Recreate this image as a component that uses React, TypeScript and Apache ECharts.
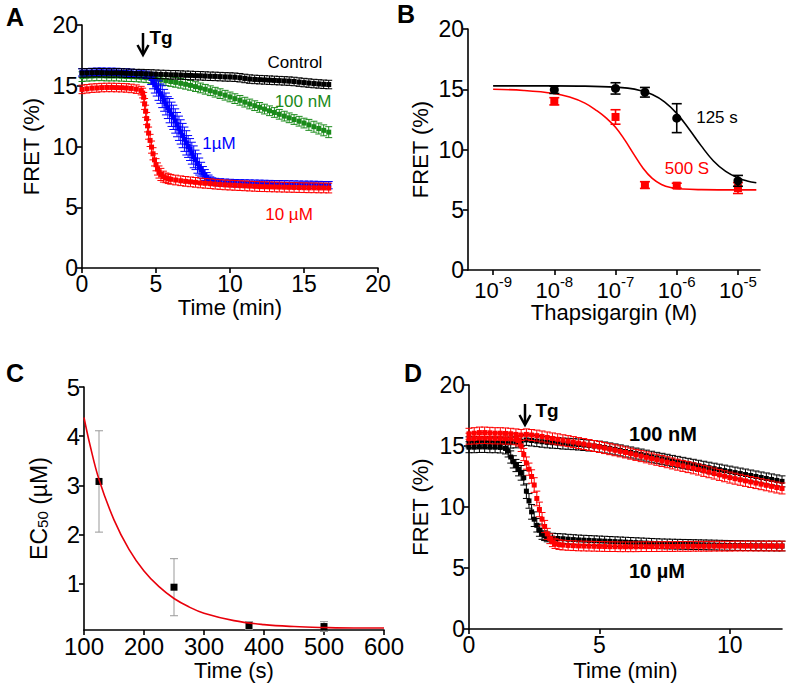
import React, { useEffect, useRef } from "react";
import * as echarts from "echarts";

const FONT = '"Liberation Sans", Arial, Helvetica, sans-serif';

// ---------- Panel A: FRET vs time, [time (min), FRET %, SEM] ----------
const aControl = [
  [0,16.05,.35],[0.33,16.06,.35],[0.67,16.07,.35],[1,16.08,.35],[1.33,16.07,.35],[1.67,16.06,.35],[2,16.05,.35],[2.33,16.06,.35],[2.67,16.05,.35],[3,16.03,.35],[3.33,16.02,.35],[3.67,16,.35],[4,16,.35],[4.33,15.98,.35],[4.67,15.97,.35],[5,15.95,.35],[5.33,15.93,.35],[5.67,15.92,.35],[6,15.9,.35],[6.33,15.9,.35],[6.67,15.88,.35],[7,15.86,.35],[7.33,15.85,.35],[7.67,15.83,.35],[8,15.82,.35],[8.33,15.8,.35],[8.67,15.78,.35],[9,15.77,.35],[9.33,15.75,.35],[9.67,15.73,.35],[10,15.72,.35],[10.33,15.7,.35],[10.67,15.66,.35],[11,15.6,.35],[11.33,15.55,.35],[11.67,15.52,.35],[12,15.5,.35],[12.33,15.48,.35],[12.67,15.46,.35],[13,15.44,.35],[13.33,15.42,.35],[13.67,15.4,.35],[14,15.38,.35],[14.33,15.35,.35],[14.67,15.3,.35],[15,15.26,.35],[15.33,15.22,.35],[15.67,15.18,.35],[16,15.15,.35],[16.33,15.12,.35],[16.67,15.1,.35]
];
const a100nM = [
  [0,15.75,.4],[0.33,15.78,.4],[0.67,15.8,.4],[1,15.82,.4],[1.33,15.82,.4],[1.67,15.8,.4],[2,15.8,.4],[2.33,15.8,.4],[2.67,15.78,.4],[3,15.76,.4],[3.33,15.75,.4],[3.67,15.73,.4],[4,15.7,.4],[4.33,15.66,.4],[4.67,15.6,.4],[5,15.55,.4],[5.33,15.48,.4],[5.67,15.42,.4],[6,15.35,.4],[6.33,15.28,.4],[6.67,15.2,.4],[7,15.12,.4],[7.33,15.03,.4],[7.67,14.93,.4],[8,14.82,.4],[8.33,14.71,.4],[8.67,14.59,.4],[9,14.47,.4],[9.33,14.35,.4],[9.67,14.22,.4],[10,14.08,.4],[10.33,13.94,.4],[10.67,13.8,.4],[11,13.65,.4],[11.33,13.5,.4],[11.67,13.36,.4],[12,13.22,.4],[12.33,13.08,.4],[12.67,12.94,.4],[13,12.8,.4],[13.33,12.65,.4],[13.67,12.5,.4],[14,12.36,.4],[14.33,12.22,.4],[14.67,12.08,.4],[15,11.93,.4],[15.33,11.78,.45],[15.67,11.63,.45],[16,11.48,.45],[16.33,11.33,.45],[16.67,11.18,.45]
];
const a1uM = [
  [0,16.1,.3],[0.33,16.12,.3],[0.67,16.14,.3],[1,16.15,.3],[1.33,16.16,.3],[1.67,16.15,.3],[2,16.15,.3],[2.33,16.14,.3],[2.67,16.12,.3],[3,16.1,.3],[3.33,16.06,.3],[3.67,16.02,.3],[4,15.98,.3],[4.33,15.9,.3],[4.67,15.6,.5],[4.8,15.35,.6],[4.92,15.1,.7],[5.05,14.85,.7],[5.17,14.6,.8],[5.3,14.35,.8],[5.42,14.1,.9],[5.55,13.8,.9],[5.67,13.5,.9],[5.8,13.2,.9],[5.92,12.95,1],[6.05,12.65,1],[6.17,12.4,1],[6.3,12.1,1],[6.42,11.8,1],[6.55,11.5,1],[6.67,11.2,1],[6.8,10.9,1],[6.92,10.6,1],[7.05,10.3,1],[7.17,10,.9],[7.3,9.75,.9],[7.42,9.45,.9],[7.55,9.15,.9],[7.67,8.9,.8],[7.8,8.6,.8],[7.92,8.35,.7],[8.05,8.1,.6],[8.17,7.85,.5],[8.3,7.65,.45],[8.42,7.45,.4],[8.55,7.3,.35],[8.67,7.2,.3],[8.8,7.12,.3],[9,7.08,.3],[9.33,7.05,.3],[9.67,7.02,.3],[10,7,.3],[10.33,6.98,.3],[10.67,6.97,.3],[11,6.96,.3],[11.33,6.95,.3],[11.67,6.94,.3],[12,6.93,.3],[12.33,6.92,.3],[12.67,6.91,.3],[13,6.9,.3],[13.33,6.9,.3],[13.67,6.89,.3],[14,6.88,.3],[14.33,6.87,.3],[14.67,6.86,.3],[15,6.85,.3],[15.33,6.85,.3],[15.67,6.84,.3],[16,6.83,.3],[16.33,6.82,.3],[16.67,6.82,.3]
];
const a10uM = [
  [0,14.7,.35],[0.33,14.75,.35],[0.67,14.8,.35],[1,14.82,.35],[1.33,14.85,.35],[1.67,14.86,.35],[2,14.86,.35],[2.33,14.85,.35],[2.67,14.84,.35],[3,14.82,.35],[3.33,14.78,.35],[3.67,14.72,.35],[4,14.6,.35],[4.1,14.4,.4],[4.17,14.05,.4],[4.23,13.5,.45],[4.3,12.9,.5],[4.37,12.3,.5],[4.43,11.7,.5],[4.5,11.1,.5],[4.6,10.5,.5],[4.7,9.95,.5],[4.8,9.4,.5],[4.9,8.9,.5],[5,8.5,.5],[5.1,8.15,.5],[5.2,7.9,.5],[5.33,7.7,.5],[5.5,7.52,.45],[5.67,7.42,.4],[5.83,7.35,.4],[6,7.3,.4],[6.33,7.24,.4],[6.67,7.18,.4],[7,7.13,.4],[7.33,7.09,.4],[7.67,7.05,.4],[8,7,.4],[8.33,6.97,.4],[8.67,6.94,.4],[9,6.9,.4],[9.33,6.87,.4],[9.67,6.84,.4],[10,6.82,.4],[10.33,6.8,.4],[10.67,6.78,.4],[11,6.76,.4],[11.33,6.74,.4],[11.67,6.72,.4],[12,6.7,.4],[12.33,6.69,.4],[12.67,6.68,.4],[13,6.67,.4],[13.33,6.66,.4],[13.67,6.65,.4],[14,6.64,.4],[14.33,6.63,.4],[14.67,6.62,.4],[15,6.61,.4],[15.33,6.6,.4],[15.67,6.6,.4],[16,6.59,.4],[16.33,6.59,.4],[16.67,6.58,.4]
];

// ---------- Panel B: dose response (log10 [Tg] M) ----------
const bLogDose = [-8, -7, -6.52, -6, -5];
const b125s = [14.95, 15.07, 14.75, 12.6, 7.4];
const b125sErr = [0.3, 0.47, 0.4, 1.2, 0.45];
const b500s = [14.0, 12.7, 7.05, 7.0, 6.8];
const b500sErr = [0.3, 0.6, 0.28, 0.2, 0.45];
const b125sFit = [[-9,15.28],[-8,15.28],[-7.5,15.26],[-7,15.18],[-6.8,15.09],[-6.6,14.9],[-6.4,14.56],[-6.2,13.96],[-6,13.0],[-5.8,11.7],[-5.6,10.3],[-5.4,9.05],[-5.2,8.18],[-5,7.64],[-4.85,7.39],[-4.7,7.24]];
const b500sFit = [[-9,15.0],[-8.5,14.9],[-8,14.65],[-7.75,14.35],[-7.5,13.85],[-7.3,13.2],[-7.15,12.6],[-7,11.85],[-6.85,10.8],[-6.7,9.6],[-6.55,8.45],[-6.4,7.6],[-6.25,7.1],[-6.1,6.85],[-5.9,6.72],[-5.6,6.67],[-5,6.65],[-4.7,6.65]];
const bTickLogs = [-9, -8, -7, -6, -5];

// ---------- Panel C: EC50 vs time ----------
const cTime = [125, 250, 375, 500];
const cEC50 = [3.08, 0.93, 0.15, 0.13];
const cErr = [1.03, 0.58, 0.08, 0.1];
const cFit = [[100,4.38],[110,3.82],[125,3.12],[150,2.3],[175,1.7],[200,1.26],[225,0.94],[250,0.7],[275,0.53],[300,0.4],[350,0.25],[400,0.17],[450,0.13],[500,0.11],[550,0.1],[600,0.1]];
const cYTicks = [1, 2, 3, 4, 5];

// ---------- Panel D: FRET vs time, two conditions ----------
const dBlack100 = [
  [0,15.3,.45],[0.2,15.3,.45],[0.4,15.32,.45],[0.6,15.3,.45],[0.8,15.3,.45],[1,15.28,.45],[1.2,15.28,.45],[1.4,15.27,.45],[1.6,15.28,.45],[1.8,15.3,.45],[2,15.4,.45],[2.2,15.5,.45],[2.4,15.45,.45],[2.6,15.4,.45],[2.8,15.35,.45],[3,15.3,.45],[3.2,15.27,.45],[3.4,15.24,.45],[3.6,15.2,.45],[3.8,15.18,.45],[4,15.15,.45],[4.2,15.12,.45],[4.4,15.08,.45],[4.6,15.04,.45],[4.8,15,.45],[5,14.95,.45],[5.2,14.88,.45],[5.4,14.8,.45],[5.6,14.72,.45],[5.8,14.64,.45],[6,14.55,.45],[6.2,14.47,.45],[6.4,14.38,.45],[6.6,14.3,.45],[6.8,14.21,.45],[7,14.12,.45],[7.2,14.03,.45],[7.4,13.95,.45],[7.6,13.87,.45],[7.8,13.78,.45],[8,13.7,.45],[8.2,13.62,.45],[8.4,13.54,.45],[8.6,13.46,.45],[8.8,13.38,.45],[9,13.3,.45],[9.2,13.22,.45],[9.4,13.14,.45],[9.6,13.06,.45],[9.8,12.98,.45],[10,12.9,.45],[10.2,12.82,.45],[10.4,12.74,.45],[10.6,12.66,.45],[10.8,12.58,.45],[11,12.5,.45],[11.2,12.42,.45],[11.4,12.34,.45],[11.6,12.26,.45],[11.8,12.18,.45],[12,12.1,.45]
];
const dRed100 = [
  [0,16,.45],[0.2,16.05,.45],[0.4,16.1,.45],[0.6,16.1,.45],[0.8,16.08,.45],[1,16.05,.45],[1.2,16.05,.45],[1.4,16.03,.45],[1.6,16,.45],[1.8,15.95,.45],[2,15.9,.45],[2.2,15.95,.45],[2.4,15.9,.45],[2.6,15.85,.45],[2.8,15.78,.45],[3,15.7,.45],[3.2,15.62,.45],[3.4,15.55,.45],[3.6,15.47,.45],[3.8,15.4,.45],[4,15.32,.45],[4.2,15.24,.45],[4.4,15.16,.45],[4.6,15.08,.45],[4.8,15,.45],[5,14.92,.45],[5.2,14.83,.45],[5.4,14.74,.45],[5.6,14.65,.45],[5.8,14.56,.45],[6,14.47,.45],[6.2,14.37,.45],[6.4,14.27,.45],[6.6,14.17,.45],[6.8,14.07,.45],[7,13.97,.45],[7.2,13.87,.45],[7.4,13.77,.45],[7.6,13.67,.45],[7.8,13.57,.45],[8,13.47,.45],[8.2,13.37,.45],[8.4,13.27,.45],[8.6,13.17,.45],[8.8,13.07,.45],[9,12.96,.45],[9.2,12.85,.45],[9.4,12.74,.45],[9.6,12.63,.45],[9.8,12.52,.45],[10,12.41,.45],[10.2,12.32,.45],[10.4,12.23,.45],[10.6,12.14,.45],[10.8,12.05,.45],[11,11.96,.45],[11.2,11.87,.45],[11.4,11.78,.45],[11.6,11.69,.45],[11.8,11.6,.45],[12,11.52,.45]
];
const dBlack10 = [
  [0,14.9,.45],[0.2,14.9,.45],[0.4,14.92,.45],[0.6,14.92,.45],[0.8,14.9,.45],[1,14.9,.45],[1.2,14.88,.45],[1.4,14.8,.45],[1.5,14.6,.5],[1.6,14.1,.5],[1.7,13.7,.5],[1.8,13.4,.5],[1.9,13.1,.55],[2,12.8,.6],[2.1,12.4,.6],[2.2,11.3,.6],[2.3,10.5,.6],[2.4,9.6,.6],[2.5,9,.6],[2.6,8.5,.55],[2.7,8.1,.5],[2.8,7.8,.45],[2.9,7.65,.4],[3,7.55,.4],[3.2,7.45,.4],[3.4,7.42,.4],[3.6,7.4,.4],[3.8,7.36,.4],[4,7.33,.4],[4.2,7.3,.4],[4.4,7.28,.4],[4.6,7.26,.4],[4.8,7.24,.4],[5,7.22,.4],[5.2,7.2,.4],[5.4,7.18,.4],[5.6,7.16,.4],[5.8,7.14,.4],[6,7.12,.4],[6.2,7.1,.4],[6.4,7.08,.4],[6.6,7.06,.4],[6.8,7.04,.4],[7,7.02,.4],[7.2,7,.4],[7.4,6.98,.4],[7.6,6.97,.4],[7.8,6.96,.4],[8,6.95,.4],[8.2,6.94,.4],[8.4,6.93,.4],[8.6,6.92,.4],[8.8,6.91,.4],[9,6.9,.4],[9.2,6.89,.4],[9.4,6.88,.4],[9.6,6.87,.4],[9.8,6.86,.4],[10,6.85,.4],[10.2,6.84,.4],[10.4,6.84,.4],[10.6,6.83,.4],[10.8,6.83,.4],[11,6.82,.4],[11.2,6.82,.4],[11.4,6.81,.4],[11.6,6.81,.4],[11.8,6.8,.4],[12,6.8,.4]
];
const dRed10 = [
  [0,15.6,.45],[0.2,15.62,.45],[0.4,15.65,.45],[0.6,15.65,.45],[0.8,15.64,.45],[1,15.62,.45],[1.2,15.62,.45],[1.4,15.6,.45],[1.6,15.6,.45],[1.8,15.55,.45],[1.9,15.45,.45],[2,15,.45],[2.1,14.3,.5],[2.2,13.6,.5],[2.3,13.1,.5],[2.4,12.5,.55],[2.5,11.8,.6],[2.6,10.7,.6],[2.7,9.8,.6],[2.8,9,.55],[2.9,8.4,.5],[3,7.8,.45],[3.1,7.4,.4],[3.2,7.15,.4],[3.3,7,.4],[3.45,6.92,.4],[3.6,6.88,.4],[3.8,6.85,.4],[4,6.83,.4],[4.2,6.81,.4],[4.4,6.8,.4],[4.6,6.79,.4],[4.8,6.78,.4],[5,6.77,.4],[5.2,6.76,.4],[5.4,6.75,.4],[5.6,6.75,.4],[5.8,6.74,.4],[6,6.74,.4],[6.2,6.74,.4],[6.4,6.74,.4],[6.6,6.75,.4],[6.8,6.75,.4],[7,6.75,.4],[7.2,6.75,.4],[7.4,6.76,.4],[7.6,6.76,.4],[7.8,6.76,.4],[8,6.77,.4],[8.2,6.77,.4],[8.4,6.77,.4],[8.6,6.78,.4],[8.8,6.78,.4],[9,6.78,.4],[9.2,6.78,.4],[9.4,6.79,.4],[9.6,6.79,.4],[9.8,6.79,.4],[10,6.79,.4],[10.2,6.8,.4],[10.4,6.8,.4],[10.6,6.8,.4],[10.8,6.8,.4],[11,6.8,.4],[11.2,6.8,.4],[11.4,6.8,.4],[11.6,6.8,.4],[11.8,6.8,.4],[12,6.8,.4]
];
const dXTicks = [0, 5, 10];

const BLACK = "#000000";
const RED = "#ff0000";
const GREEN = "#1a8a1a";
const BLUE = "#0000ff";
const TICK_FS = 23;

function errMarker(color: string, size: number, cap: number, lw: number, shape: "rect" | "circle", barColor?: string) {
  return (params: any, api: any) => {
    const t = api.value(0), y = api.value(1), e = api.value(2);
    const p = api.coord([t, y]);
    const top = api.coord([t, y + e]);
    const bot = api.coord([t, y - e]);
    const bc = barColor || color;
    const marker = shape === "rect"
      ? { type: "rect", shape: { x: p[0] - size / 2, y: p[1] - size / 2, width: size, height: size }, style: { fill: color } }
      : { type: "circle", shape: { cx: p[0], cy: p[1], r: size / 2 }, style: { fill: color } };
    return {
      type: "group",
      children: [
        { type: "line", shape: { x1: p[0], y1: top[1], x2: p[0], y2: bot[1] }, style: { stroke: bc, lineWidth: lw } },
        { type: "line", shape: { x1: p[0] - cap, y1: top[1], x2: p[0] + cap, y2: top[1] }, style: { stroke: bc, lineWidth: lw } },
        { type: "line", shape: { x1: p[0] - cap, y1: bot[1], x2: p[0] + cap, y2: bot[1] }, style: { stroke: bc, lineWidth: lw } },
        marker,
      ],
    };
  };
}

function customSeries(idx: number, data: any[], render: any, z = 2) {
  return {
    type: "custom",
    xAxisIndex: idx,
    yAxisIndex: idx,
    data,
    encode: { x: 0, y: 1 },
    renderItem: render,
    clip: false,
    silent: true,
    z,
  };
}

function baseAxis(gridIndex: number, extra: any) {
  return {
    type: "value",
    gridIndex,
    splitLine: { show: false },
    axisLine: { show: true, onZero: false, lineStyle: { color: BLACK, width: 1.6 } },
    axisTick: { show: true, inside: false, length: 5, lineStyle: { color: BLACK, width: 1.6 } },
    axisLabel: { color: BLACK, fontSize: TICK_FS, fontFamily: FONT, margin: 4, showMinLabel: true, showMaxLabel: true },
    nameLocation: "middle",
    nameTextStyle: { color: BLACK, fontSize: 22, fontFamily: FONT },
    ...extra,
  };
}

function txt(x: number, y: number, text: string, size: number, color = BLACK, bold = false) {
  return {
    type: "text",
    x,
    y,
    silent: true,
    style: { text, fill: color, fontSize: size, fontFamily: FONT, fontWeight: bold ? "bold" : "normal", align: "center", verticalAlign: "middle" },
  };
}

function arrow(x: number, y1: number, y2: number) {
  return [
    { type: "line", silent: true, shape: { x1: x, y1, x2: x, y2: y2 - 1 }, style: { stroke: BLACK, lineWidth: 2.5 } },
    { type: "polyline", silent: true, shape: { points: [[x - 5.5, y2 - 10], [x, y2], [x + 5.5, y2 - 10]] }, style: { stroke: BLACK, lineWidth: 2.5, fill: null } },
  ];
}

export default function App() {
  const ref = useRef<HTMLDivElement>(null);
  useEffect(() => {
    if (!ref.current) return;
    const chart = echarts.init(ref.current, null, { renderer: "svg" });
    const option: any = {
      animation: false,
      backgroundColor: "#ffffff",
      grid: [
        { left: 82, top: 25, width: 296, height: 243, outerBoundsMode: "none" },
        { left: 468, top: 29, width: 292, height: 241, outerBoundsMode: "none" },
        { left: 84, top: 387, width: 300, height: 243, outerBoundsMode: "none" },
        { left: 469, top: 385, width: 313, height: 244, outerBoundsMode: "none" },
      ],
      xAxis: [
        baseAxis(0, { min: 0, max: 20, interval: 5, name: "Time (min)", nameGap: 28 }),
        baseAxis(1, {
          min: -9.41, max: -4.64, name: "Thapsigargin (M)", nameGap: 30,
          axisTick: { show: true, length: 5, lineStyle: { color: BLACK, width: 1.6 }, customValues: bTickLogs },
          axisLabel: {
            customValues: bTickLogs, margin: 4, showMinLabel: true, showMaxLabel: true,
            formatter: (v: number) => `{b|10}{s|${Math.round(v)}}`,
            rich: {
              b: { fontSize: 22, lineHeight: 27, verticalAlign: "bottom", fontFamily: FONT, color: BLACK },
              s: { fontSize: 15, lineHeight: 15, verticalAlign: "top", fontFamily: FONT, color: BLACK },
            },
          },
        }),
        baseAxis(2, { min: 100, max: 600, interval: 100, name: "Time (s)", nameGap: 29,
          axisLabel: { color: BLACK, fontSize: 24, fontFamily: FONT, margin: 4, showMinLabel: true, showMaxLabel: true } }),
        baseAxis(3, {
          min: 0, max: 12, name: "Time (min)", nameGap: 30,
          axisTick: { show: true, length: 5, lineStyle: { color: BLACK, width: 1.6 }, customValues: dXTicks },
          axisLabel: { customValues: dXTicks, color: BLACK, fontSize: TICK_FS, fontFamily: FONT, margin: 4 },
        }),
      ],
      yAxis: [
        baseAxis(0, { min: 0, max: 20, interval: 5, name: "FRET (%)", nameGap: 40 }),
        baseAxis(1, { min: 0, max: 20, interval: 5, name: "FRET (%)", nameGap: 37 }),
        baseAxis(2, {
          min: 0.06, max: 5, nameGap: 34,
          name: "{a|EC}{s|50}{a| (\u00b5M)}",
          nameTextStyle: {
            color: BLACK, fontFamily: FONT,
            rich: {
              a: { fontSize: 23, lineHeight: 23, verticalAlign: "top", fontFamily: FONT, color: BLACK },
              s: { fontSize: 15, lineHeight: 15, verticalAlign: "bottom", padding: [13, 0, 0, 0], fontFamily: FONT, color: BLACK },
            },
          },
          axisTick: { show: true, length: 5, lineStyle: { color: BLACK, width: 1.6 }, customValues: cYTicks },
          axisLabel: { customValues: cYTicks, color: BLACK, fontSize: 24, fontFamily: FONT, margin: 4 },
        }),
        baseAxis(3, { min: 0, max: 20, interval: 5, name: "FRET (%)", nameGap: 38 }),
      ],
      series: [
        // Panel A
        customSeries(0, a100nM, errMarker(GREEN, 5, 3.5, 1, "rect"), 2),
        customSeries(0, a1uM, errMarker(BLUE, 5, 4, 1, "rect"), 3),
        customSeries(0, a10uM, errMarker(RED, 5, 3.5, 1, "rect"), 4),
        customSeries(0, aControl, errMarker(BLACK, 5, 3.5, 1, "rect"), 5),
        // Panel B
        {
          type: "line", xAxisIndex: 1, yAxisIndex: 1, data: b125sFit, smooth: 0.4, showSymbol: false, silent: true,
          lineStyle: { color: BLACK, width: 1.6 }, z: 2,
        },
        {
          type: "line", xAxisIndex: 1, yAxisIndex: 1, data: b500sFit, smooth: 0.4, showSymbol: false, silent: true,
          lineStyle: { color: RED, width: 1.6 }, z: 2,
        },
        customSeries(1, bLogDose.map((x, i) => [x, b500s[i], b500sErr[i]]), errMarker(RED, 8, 5, 1.6, "rect"), 3),
        customSeries(1, bLogDose.map((x, i) => [x, b125s[i], b125sErr[i]]), errMarker(BLACK, 9, 5, 1.6, "circle"), 4),
        // Panel C
        customSeries(2, cTime.map((x, i) => [x, cEC50[i], cErr[i]]), errMarker(BLACK, 7, 4, 1, "rect", "#999999"), 3),
        {
          type: "line", xAxisIndex: 2, yAxisIndex: 2, data: cFit, smooth: 0.4, showSymbol: false, silent: true,
          lineStyle: { color: "#e8000b", width: 1.6 }, z: 4,
        },
        // Panel D
        customSeries(3, dBlack100, errMarker(BLACK, 5, 3.5, 1, "rect"), 2),
        customSeries(3, dRed100, errMarker(RED, 5, 3.5, 1, "rect"), 3),
        customSeries(3, dBlack10, errMarker(BLACK, 5, 3.5, 1, "rect"), 4),
        customSeries(3, dRed10, errMarker(RED, 5, 3.5, 1, "rect"), 5),
      ],
      graphic: [
        txt(15, 17, "A", 25, BLACK, true),
        txt(406, 14, "B", 25, BLACK, true),
        txt(15, 373, "C", 25, BLACK, true),
        txt(413, 373, "D", 25, BLACK, true),
        ...arrow(143, 33, 55),
        txt(161, 37, "Tg", 19, BLACK, true),
        txt(295, 62, "Control", 17),
        txt(303, 101, "100 nM", 17, GREEN),
        txt(219, 143, "1\u00b5M", 17, BLUE),
        txt(289, 214, "10 \u00b5M", 17, RED),
        txt(717, 117, "125 s", 17),
        txt(687, 168, "500 S", 17, RED),
        ...arrow(525, 404, 425),
        txt(547, 410, "Tg", 19, BLACK, true),
        txt(663, 434, "100 nM", 20, BLACK, true),
        txt(657, 571, "10 \u00b5M", 20, BLACK, true),
      ],
    };
    chart.setOption(option);
    return () => chart.dispose();
  }, []);
  return <div ref={ref} style={{ position: "absolute", left: 0, top: 0, width: 787, height: 691 }} />;
}
